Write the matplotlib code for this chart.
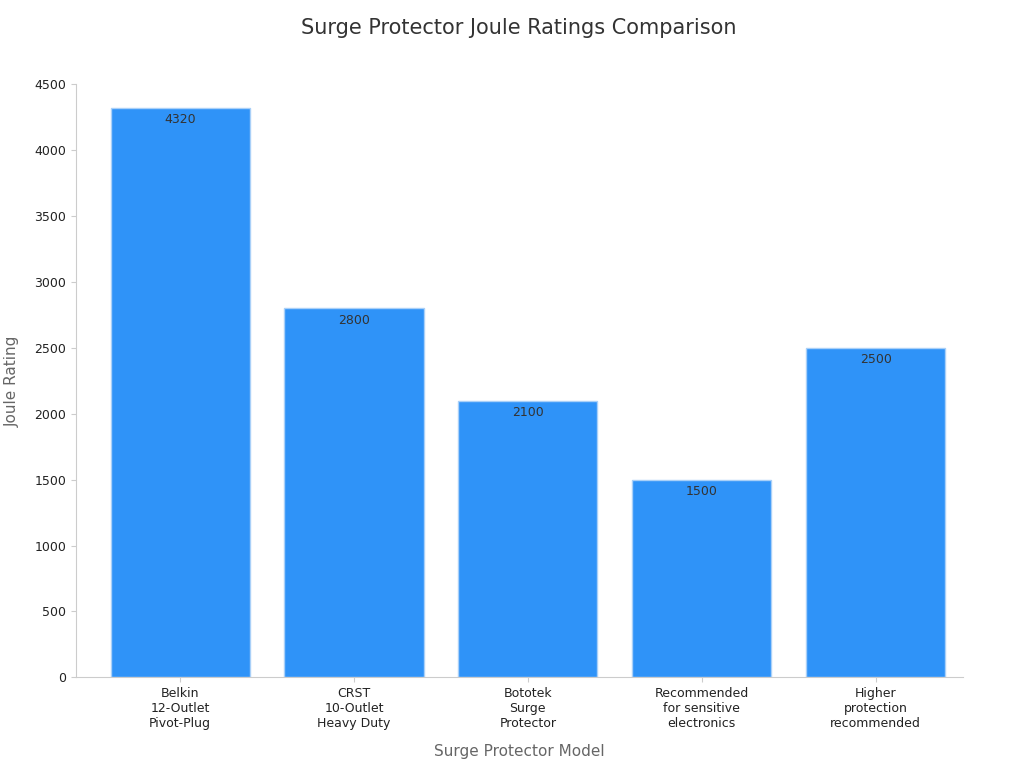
import matplotlib.pyplot as plt

# Chart data
models = ["Belkin\n12-Outlet\nPivot-Plug", "CRST\n10-Outlet\nHeavy Duty", "Bototek\nSurge\nProtector",
          "Recommended\nfor sensitive\nelectronics", "Higher\nprotection\nrecommended"]
joules = [4320, 2800, 2100, 1500, 2500]
yticks = [0, 500, 1000, 1500, 2000, 2500, 3000, 3500, 4000, 4500]

fig, ax = plt.subplots(figsize=(10.24, 7.68), dpi=100)
fig.subplots_adjust(left=0.074, right=0.94, top=0.89, bottom=0.118)

bars = ax.bar(range(len(models)), joules, width=0.8, color="#2f93f8", edgecolor="#a9d0f8", linewidth=1)
for b, v in zip(bars, joules):
    ax.text(b.get_x() + b.get_width() / 2, v - 40, str(v), ha="center", va="top", fontsize=9, color="#333333")

ax.set_xlim(-0.6, 4.5)
ax.set_ylim(0, 4500)
ax.set_yticks(yticks)
ax.set_xticks(range(len(models)))
ax.set_xticklabels(models, fontsize=9, color="#222222")
ax.tick_params(axis="y", labelsize=9, colors="#222222")
ax.tick_params(color="#cccccc")
for s in ["top", "right"]:
    ax.spines[s].set_visible(False)
for s in ["left", "bottom"]:
    ax.spines[s].set_color("#cccccc")

ax.set_title("Surge Protector Joule Ratings Comparison", fontsize=15, color="#333333", pad=36)
ax.set_xlabel("Surge Protector Model", fontsize=11, color="#666666", labelpad=10)
ax.set_ylabel("Joule Rating", fontsize=11, color="#666666", labelpad=10)

fig.savefig("out.png")
